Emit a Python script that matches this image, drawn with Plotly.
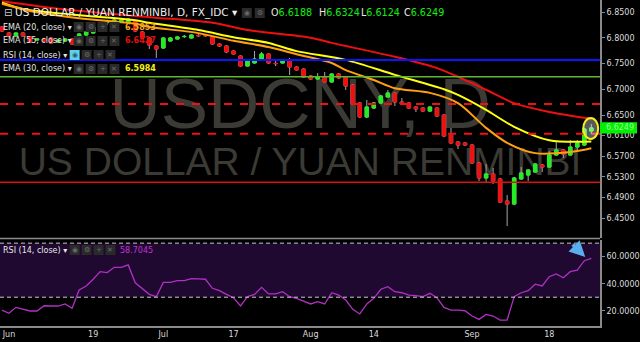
import plotly.graph_objects as go
import pandas as pd

W, H = 640, 342

# ---------------- data ----------------
dates = [d.strftime("%Y-%m-%d") for d in pd.bdate_range("2018-05-31", "2018-09-26")]

opens = [6.8209, 6.8092, 6.8034, 6.8092, 6.8015, 6.7956, 6.7976, 6.7995, 6.7917, 6.7937,
         6.7976, 6.7898, 6.8053, 6.8092, 6.8189, 6.8294, 6.8286, 6.8306, 6.8306, 6.8325,
         6.8112, 6.7995, 6.7840, 6.7801, 6.7937, 6.7976, 6.8022, 6.7995, 6.8046, 6.8046,
         6.8015, 6.7879, 6.7840, 6.7743, 6.7646, 6.7451, 6.7510, 6.7587, 6.7684, 6.7502,
         6.7510, 6.7548, 6.7432, 6.7393, 6.7257, 6.7199, 6.7238, 6.7141, 6.7296, 6.7238,
         6.7082, 6.6733, 6.6461, 6.6636, 6.6733, 6.6849, 6.6927, 6.6752, 6.6733, 6.6655,
         6.6636, 6.6577, 6.6636, 6.6500, 6.6112, 6.5976, 6.5956, 6.5917, 6.5568, 6.5277,
         6.5355, 6.5257, 6.4829, 6.4771, 6.5257, 6.5335, 6.5393, 6.5529, 6.5490, 6.5723,
         6.5820, 6.5723, 6.5878, 6.5917, 6.6188]
highs = [6.8225, 6.8110, 6.8105, 6.8110, 6.8030, 6.7990, 6.8000, 6.8010, 6.7970, 6.7990,
         6.7990, 6.8090, 6.8130, 6.8230, 6.8300, 6.8345, 6.8360, 6.8360, 6.8380, 6.8350,
         6.8130, 6.8010, 6.7850, 6.8010, 6.8010, 6.8030, 6.8053, 6.8070, 6.8073, 6.8073,
         6.8030, 6.7890, 6.7860, 6.7760, 6.7660, 6.7580, 6.7743, 6.7723, 6.7700, 6.7548,
         6.7560, 6.7607, 6.7450, 6.7410, 6.7270, 6.7315, 6.7335, 6.7310, 6.7315, 6.7250,
         6.7100, 6.6750, 6.6791, 6.6750, 6.6890, 6.6985, 6.6940, 6.6830, 6.6750, 6.6670,
         6.6650, 6.6670, 6.6650, 6.6520, 6.6248, 6.5990, 6.5970, 6.5940, 6.5590, 6.5548,
         6.5471, 6.5280, 6.4946, 6.5300, 6.5490, 6.5450, 6.5570, 6.5550, 6.5801, 6.5975,
         6.5840, 6.6014, 6.6014, 6.6250, 6.6324]
lows = [6.8115, 6.8020, 6.8020, 6.8015, 6.7900, 6.7940, 6.7920, 6.7880, 6.7900, 6.7920,
        6.7860, 6.7880, 6.8040, 6.8080, 6.8170, 6.8248, 6.8270, 6.8290, 6.8290, 6.8110,
        6.7980, 6.7782, 6.7607, 6.7790, 6.7930, 6.7965, 6.7995, 6.7980, 6.8015, 6.8015,
        6.7860, 6.7820, 6.7700, 6.7670, 6.7432, 6.7440, 6.7500, 6.7570, 6.7490, 6.7451,
        6.7500, 6.7277, 6.7360, 6.7220, 6.7180, 6.7190, 6.7130, 6.7130, 6.7200, 6.6985,
        6.6690, 6.6440, 6.6440, 6.6620, 6.6720, 6.6840, 6.6675, 6.6700, 6.6620, 6.6558,
        6.6560, 6.6560, 6.6460, 6.6070, 6.5940, 6.5840, 6.5900, 6.5550, 6.5218, 6.5180,
        6.5160, 6.4790, 6.4344, 6.4750, 6.5240, 6.5218, 6.5380, 6.5393, 6.5470, 6.5710,
        6.5665, 6.5710, 6.5782, 6.5900, 6.6124]
closes = [6.8131, 6.8034, 6.8092, 6.8034, 6.7917, 6.7976, 6.7937, 6.7898, 6.7956, 6.7976,
          6.7878, 6.8073, 6.8112, 6.8209, 6.8286, 6.8300, 6.8345, 6.8345, 6.8364, 6.8131,
          6.7995, 6.7859, 6.7782, 6.7995, 6.7995, 6.8015, 6.8026, 6.8053, 6.8040, 6.8040,
          6.7879, 6.7840, 6.7723, 6.7684, 6.7451, 6.7568, 6.7587, 6.7684, 6.7510, 6.7498,
          6.7548, 6.7432, 6.7374, 6.7238, 6.7199, 6.7238, 6.7141, 6.7296, 6.7218, 6.7063,
          6.6713, 6.6461, 6.6655, 6.6733, 6.6869, 6.6927, 6.6752, 6.6713, 6.6636, 6.6617,
          6.6577, 6.6655, 6.6481, 6.6092, 6.5956, 6.5917, 6.5917, 6.5568, 6.5277, 6.5355,
          6.5218, 6.4810, 6.4771, 6.5277, 6.5374, 6.5432, 6.5548, 6.5490, 6.5723, 6.5820,
          6.5742, 6.5878, 6.5956, 6.6228, 6.6249]

rsi = [20.5, 18.1, 22.5, 21.3, 19.8, 19.8, 23.7, 23.5, 23.5, 25.0,
       21.8, 35.3, 38.3, 43.3, 48.9, 48.2, 52.1, 52.1, 53.9, 40.7,
       36.6, 32.1, 30.4, 41.0, 41.0, 42.2, 42.2, 43.7, 43.5, 43.3,
       36.6, 34.8, 32.1, 29.6, 23.5, 30.4, 32.1, 37.3, 32.4, 32.4,
       34.1, 30.4, 29.2, 27.2, 25.0, 26.7, 25.0, 33.3, 31.6, 27.9,
       21.0, 17.6, 25.0, 29.2, 35.9, 37.8, 34.1, 33.3, 31.6, 31.1,
       30.4, 32.9, 29.6, 22.5, 20.5, 20.5, 20.0, 16.1, 13.6, 17.3,
       16.1, 13.1, 13.1, 30.4, 33.3, 34.8, 39.6, 38.3, 45.2, 47.2,
       44.4, 48.9, 50.1, 57.0, 58.7045]

ema20_dates = ["2018-05-31", "2018-06-06", "2018-06-15", "2018-06-27", "2018-06-29", "2018-07-10",
               "2018-07-17", "2018-07-24", "2018-07-30", "2018-08-06", "2018-08-08", "2018-08-14",
               "2018-08-17", "2018-08-24", "2018-08-30", "2018-09-05", "2018-09-10", "2018-09-14",
               "2018-09-21", "2018-09-26"]
ema20 = [6.866, 6.852, 6.838, 6.827, 6.821, 6.809, 6.794, 6.782, 6.768, 6.751, 6.737, 6.718,
         6.702, 6.693, 6.673, 6.625, 6.596, 6.576, 6.578, 6.5853]

ema30_dates = ["2018-05-31", "2018-06-05", "2018-06-14", "2018-06-27", "2018-06-29", "2018-07-10",
               "2018-07-17", "2018-07-24", "2018-07-30", "2018-08-08", "2018-08-17", "2018-08-28",
               "2018-08-30", "2018-09-05", "2018-09-11", "2018-09-18", "2018-09-26"]
ema30 = [6.868, 6.856, 6.845, 6.834, 6.829, 6.815, 6.801, 6.790, 6.774, 6.757, 6.728, 6.700,
         6.689, 6.660, 6.627, 6.601, 6.5984]

ema55_dates = ["2018-05-31", "2018-06-13", "2018-06-29", "2018-07-12", "2018-07-19", "2018-08-01",
               "2018-08-06", "2018-08-17", "2018-08-27", "2018-08-31", "2018-09-05", "2018-09-11",
               "2018-09-18", "2018-09-26"]
ema55 = [6.871, 6.855, 6.840, 6.829, 6.815, 6.800, 6.790, 6.763, 6.741, 6.718, 6.699, 6.673,
         6.656, 6.6427]

levels = [6.757, 6.7244, 6.6713, 6.6135, 6.5193]
level_colors = ["#0a14ff", "#5fb82e", "#ee1111", "#ee1111", "#dd0f0f"]
level_dash = ["solid", "solid", "8px,8px", "8px,8px", "solid"]
level_width = [2, 1.5, 2, 2, 1.5]

price_ticks = [6.85, 6.80, 6.75, 6.70, 6.65, 6.61, 6.57, 6.53, 6.49, 6.45]
rsi_ticks = [20, 40, 60]
x_tick_dates = ["2018-06-01", "2018-06-19", "2018-07-03", "2018-07-17", "2018-08-01",
                "2018-08-14", "2018-09-03", "2018-09-18"]
x_tick_text = ["Jun", "19", "Jul", "17", "Aug", "14", "Sep", "18"]

# ---------------- helpers ----------------
def px(x):
    return x / W


def py(y):
    return 1 - y / H


XEND = px(603)
FONT = "DejaVu Sans"
GREEN = "#22ee22"
RED = "#ee1111"

fig = go.Figure()

# candles: wick layer + body layer
fig.add_trace(go.Candlestick(
    x=dates, open=opens, high=highs, low=lows, close=closes,
    increasing=dict(line=dict(color="#a8a8a8", width=1), fillcolor=GREEN),
    decreasing=dict(line=dict(color="#a8a8a8", width=1), fillcolor=RED),
    whiskerwidth=0, hoverinfo="skip", showlegend=False, xaxis="x", yaxis="y"))
body_hi = [max(o, c) for o, c in zip(opens, closes)]
body_lo = [min(o, c) for o, c in zip(opens, closes)]
fig.add_trace(go.Candlestick(
    x=dates, open=opens, high=body_hi, low=body_lo, close=closes,
    increasing=dict(line=dict(color=GREEN, width=1), fillcolor=GREEN),
    decreasing=dict(line=dict(color=RED, width=1), fillcolor=RED),
    whiskerwidth=0, hoverinfo="skip", showlegend=False, xaxis="x", yaxis="y"))

# EMAs
for xs, ys, col in [(ema55_dates, ema55, "#ee1010"),
                    (ema30_dates, ema30, "#ffff10"),
                    (ema20_dates, ema20, "#ffa010")]:
    fig.add_trace(go.Scatter(x=xs, y=ys, mode="lines", line=dict(color=col, width=2, shape="spline", smoothing=0.8),
                             hoverinfo="skip", showlegend=False, xaxis="x", yaxis="y"))

# RSI
fig.add_trace(go.Scatter(x=dates, y=rsi, mode="lines", line=dict(color="#b030c4", width=1.3),
                         hoverinfo="skip", showlegend=False, xaxis="x2", yaxis="y2"))

shapes = []
# watermark (below traces)
shapes.append(dict(type="rect", xref="paper", yref="paper", x0=0, x1=XEND, y0=py(125), y1=py(67),
                   line=dict(width=0), fillcolor="rgba(0,0,0,0)", layer="below",
                   label=dict(text="USDCNY, D", textposition="middle center",
                              font=dict(family="Liberation Sans", size=71, color="#3b3a34"))))
shapes.append(dict(type="rect", xref="paper", yref="paper", x0=0, x1=XEND, y0=py(175), y1=py(139),
                   line=dict(width=0), fillcolor="rgba(0,0,0,0)", layer="below",
                   label=dict(text="US DOLLAR / YUAN RENMINBI", textposition="middle center",
                              font=dict(family="Liberation Sans", size=39, color="#3b3a34"))))
# RSI band
shapes.append(dict(type="rect", xref="paper", yref="y2", x0=0, x1=XEND, y0=30, y1=70,
                   fillcolor="#1f0930", line=dict(width=0), layer="below"))
for lv in (70, 30):
    shapes.append(dict(type="line", xref="paper", yref="y2", x0=0, x1=XEND, y0=lv, y1=lv,
                       line=dict(color="#c8c8c8", width=1, dash="4px,3px"), layer="above"))
# horizontal levels
for lv, col, dsh, wd in zip(levels, level_colors, level_dash, level_width):
    shapes.append(dict(type="line", xref="paper", yref="y", x0=0, x1=XEND, y0=lv, y1=lv,
                       line=dict(color=col, width=wd, dash=dsh), layer="above"))
# panel separator
shapes.append(dict(type="line", xref="paper", yref="paper", x0=0, x1=XEND, y0=py(238.5), y1=py(238.5),
                   line=dict(color="#8a8a8a", width=1.5)))
# ellipse highlighting last candle
shapes.append(dict(type="circle", xref="paper", yref="paper", x0=px(586), x1=px(601), y0=py(139), y1=py(118),
                   line=dict(color="#f4f020", width=2), fillcolor="rgba(255,255,255,0.35)", layer="above"))
# last price box
shapes.append(dict(type="rect", xref="paper", yref="y", x0=XEND, x1=1.0,
                   y0=closes[-1] - 0.0108, y1=closes[-1] + 0.0108,
                   fillcolor="#00f000", line=dict(width=0), layer="above"))

annotations = []


def txt(x, y, s, color="#e6e6e6", size=8, weight="normal", family=FONT, anchor="left"):
    annotations.append(dict(x=px(x), y=py(y), xref="paper", yref="paper", text=s, showarrow=False,
                            xanchor=anchor, yanchor="middle", borderpad=0,
                            font=dict(family=family, size=size, color=color, weight=weight)))


def icons(x_list, y, first_cyan=False):
    glyphs = ["◉", "⚙", "+", "✕"]
    for i, (x0, g) in enumerate(zip(x_list, glyphs)):
        cyan = first_cyan and i == 0
        shapes.append(dict(type="rect", xref="paper", yref="paper", x0=px(x0), x1=px(x0 + 10),
                           y0=py(y + 5), y1=py(y - 5), line=dict(width=0),
                           fillcolor="#5fd0ee" if cyan else "#2a2a2a", layer="above"))
        annotations.append(dict(x=px(x0 + 5), y=py(y), xref="paper", yref="paper", text=g, showarrow=False,
                                xanchor="center", yanchor="middle",
                                font=dict(family=FONT, size=7, color="#2a6070" if cyan else "#6a6a6a")))


# title row
txt(3, 13, "⊟", color="#cfcfcf", size=10)
txt(14, 13, "US DOLLAR / YUAN RENMINBI, D, FX_IDC ▾", color="#ededed", size=10.5)
icons([243, 256], 13)
for xo, lab, val in [(271, "O", "6.6188"), (319, "H", "6.6324"), (362, "L", "6.6124"), (405, "C", "6.6249")]:
    txt(xo, 13, lab + "<span style='color:#10f010'>" + val + "</span>", color="#e6e6e6", size=9.6)

# indicator legend rows
txt(2, 27, "EMA (20, close) ▾", size=8)
icons([74, 86, 98, 110], 27)
txt(125, 27, "6.5853", color="#f5a623", size=8, weight="bold")
txt(2, 41, "EMA (55, close) ▾", size=8)
icons([74, 86, 98, 110], 41)
txt(125, 41, "6.6427", color="#e01010", size=8, weight="bold")
txt(2, 55, "RSI (14, close) ▾", size=8)
icons([70, 82, 94, 106], 55, first_cyan=True)
txt(2, 69, "EMA (30, close) ▾", size=8)
icons([74, 86, 98, 110], 69)
txt(125, 69, "6.5984", color="#f2f21a", size=8, weight="bold")

# RSI panel legend
txt(2, 250, "RSI (14, close) ▾", size=8)
icons([70, 82, 94, 106], 250)
txt(120, 250, "58.7045", color="#c035d0", size=8)

# last price label text
annotations.append(dict(x=XEND + 0.006, y=closes[-1], xref="paper", yref="y", text="6.6249", showarrow=False,
                        xanchor="left", yanchor="middle", font=dict(family=FONT, size=8, color="#9cff9c")))

# blue arrow in RSI panel
annotations.append(dict(x=px(588), y=py(257), xref="paper", yref="paper", text="", showarrow=True,
                        ax=-14, ay=-14, arrowhead=2, arrowsize=0.9, arrowwidth=3.5, arrowcolor="#5aaef0"))

axis_font = dict(family=FONT, size=8, color="#dcdcdc")
fig.update_layout(
    width=W, height=H, margin=dict(l=0, r=0, t=0, b=0),
    paper_bgcolor="#000000", plot_bgcolor="#000000",
    showlegend=False,
    xaxis=dict(type="category", domain=[0, XEND], anchor="y", range=[-0.277, 85.26],
               showticklabels=False, showgrid=False, zeroline=False, rangeslider=dict(visible=False),
               fixedrange=True),
    xaxis2=dict(type="category", domain=[0, XEND], anchor="y2", matches="x", range=[-0.277, 85.26],
                showgrid=False, zeroline=False, rangeslider=dict(visible=False),
                tickmode="array", tickvals=x_tick_dates, ticktext=x_tick_text, tickangle=0,
                tickfont=axis_font, ticks="", showline=True, linecolor="#8a8a8a", linewidth=1.5),
    yaxis=dict(domain=[py(238), 1], range=[6.4112, 6.8733], side="right", anchor="x",
               showgrid=False, zeroline=False, tickmode="array", tickvals=price_ticks,
               ticktext=["%.4f" % v for v in price_ticks], tickfont=axis_font,
               ticks="outside", ticklen=3, tickcolor="#8a8a8a",
               showline=True, linecolor="#8a8a8a", linewidth=1.5),
    yaxis2=dict(domain=[py(326), py(239.5)], range=[8.7, 72.7], side="right", anchor="x2",
                showgrid=False, zeroline=False, tickmode="array", tickvals=rsi_ticks,
                ticktext=["%.4f" % v for v in rsi_ticks], tickfont=axis_font,
                ticks="outside", ticklen=3, tickcolor="#8a8a8a",
                showline=True, linecolor="#8a8a8a", linewidth=1.5),
    shapes=shapes, annotations=annotations,
)

fig.write_html("out.html")
